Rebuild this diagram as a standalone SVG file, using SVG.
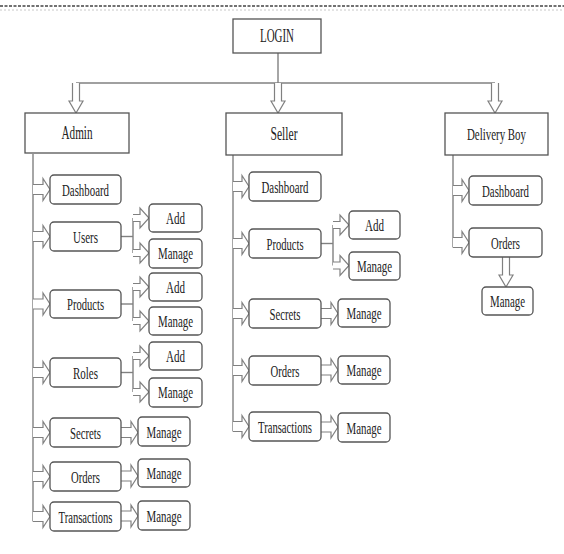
<svg xmlns="http://www.w3.org/2000/svg" xmlns:xlink="http://www.w3.org/1999/xlink" width="564" height="554" viewBox="0 0 564 554">
<style>
  .bg{fill:#ffffff}
  .hdr{fill:#ffffff;stroke:#555;stroke-width:1.3}
  .box{fill:#ffffff;stroke:#555;stroke-width:1.3}
  .ln{fill:none;stroke:#808080;stroke-width:1.4}
  .ar{fill:#ffffff;stroke:#808080;stroke-width:1.2;stroke-linejoin:miter}
  .t{font-family:"Liberation Serif","Times New Roman",serif;font-size:17px;fill:#222;text-anchor:middle}
  .th{font-family:"Liberation Serif","Times New Roman",serif;font-size:18px;fill:#222;text-anchor:middle}
</style>
<defs>
  <path id="arM" d="M0,-5 H10 V-11 L17,0 L10,11 V5 H0"/>
  <path id="arS" d="M0,-5 H9 V-11 L16,0 L9,11 V5 H0"/>
  <path id="arB" d="M0,-3.5 H7 V-10 L16,0 L7,10 V3.5 H0"/>
  <path id="arD" d="M-3.5,0 V18 H-7 L0,30 L7,18 H3.5 V0"/>
</defs>
<rect class="bg" x="0" y="0" width="564" height="554"/>
<line x1="0" y1="6" x2="564" y2="6" stroke="#444" stroke-width="1.6" stroke-dasharray="3,1.5"/>
<line x1="0" y1="10" x2="564" y2="10" stroke="#c8c8c8" stroke-width="1" stroke-dasharray="2,2"/>

<g id="connectors">
  <line class="ln" x1="278" y1="53" x2="278" y2="83"/>
  <line class="ln" x1="76" y1="83" x2="495" y2="83"/>
  <use href="#arD" class="ar" x="76" y="83"/>
  <use href="#arD" class="ar" x="278" y="83"/>
  <use href="#arD" class="ar" x="495" y="83"/>
  <line class="ln" x1="33" y1="154" x2="33" y2="521.5"/>
  <use href="#arM" class="ar" x="33" y="189.5"/>
  <use href="#arM" class="ar" x="33" y="236.5"/>
  <use href="#arM" class="ar" x="33" y="304"/>
  <use href="#arM" class="ar" x="33" y="372.5"/>
  <use href="#arM" class="ar" x="33" y="432.5"/>
  <use href="#arM" class="ar" x="33" y="476.5"/>
  <use href="#arM" class="ar" x="33" y="516.5"/>
  <line class="ln" x1="121" y1="236.5" x2="133" y2="236.5"/>
  <line class="ln" x1="133" y1="218" x2="133" y2="253"/>
  <use href="#arB" class="ar" x="133" y="218"/>
  <use href="#arB" class="ar" x="133" y="253"/>
  <line class="ln" x1="121" y1="304" x2="133" y2="304"/>
  <line class="ln" x1="133" y1="287" x2="133" y2="321"/>
  <use href="#arB" class="ar" x="133" y="287"/>
  <use href="#arB" class="ar" x="133" y="321"/>
  <line class="ln" x1="121" y1="372.5" x2="133" y2="372.5"/>
  <line class="ln" x1="133" y1="356" x2="133" y2="392"/>
  <use href="#arB" class="ar" x="133" y="356"/>
  <use href="#arB" class="ar" x="133" y="392"/>
  <use href="#arM" class="ar" x="121" y="432.5"/>
  <use href="#arM" class="ar" x="121" y="476"/>
  <use href="#arM" class="ar" x="121" y="516"/>
  <line class="ln" x1="233" y1="155" x2="233" y2="431.5"/>
  <use href="#arS" class="ar" x="233" y="186.5"/>
  <use href="#arS" class="ar" x="233" y="243.5"/>
  <use href="#arS" class="ar" x="233" y="313.5"/>
  <use href="#arS" class="ar" x="233" y="370.5"/>
  <use href="#arS" class="ar" x="233" y="426.5"/>
  <line class="ln" x1="321" y1="243.5" x2="333" y2="243.5"/>
  <line class="ln" x1="333" y1="225" x2="333" y2="265.5"/>
  <use href="#arB" class="ar" x="333" y="225"/>
  <use href="#arB" class="ar" x="333" y="265.5"/>
  <use href="#arM" class="ar" x="321" y="313.5"/>
  <use href="#arM" class="ar" x="321" y="370"/>
  <use href="#arM" class="ar" x="321" y="427"/>
  <line class="ln" x1="453" y1="155" x2="453" y2="247.5"/>
  <use href="#arS" class="ar" x="453" y="190.5"/>
  <use href="#arS" class="ar" x="453" y="242.5"/>
  <use href="#arD" class="ar" x="506" y="257"/>
</g>

<g id="login"><rect class="hdr" x="233" y="19" width="88" height="34"/><text class="th" x="277" y="42" textLength="34" lengthAdjust="spacingAndGlyphs">LOGIN</text></g>
<g id="admin"><rect class="hdr" x="25" y="113" width="104" height="40"/><text class="th" x="77" y="139" textLength="31" lengthAdjust="spacingAndGlyphs">Admin</text></g>
<g id="seller"><rect class="hdr" x="226" y="113" width="116" height="42"/><text class="th" x="284" y="140" textLength="27" lengthAdjust="spacingAndGlyphs">Seller</text></g>
<g id="delivery"><rect class="hdr" x="445" y="113" width="103" height="42"/><text class="th" x="496.5" y="140" style="font-size:17px" textLength="59" lengthAdjust="spacingAndGlyphs">Delivery Boy</text></g>

<g id="a-dashboard"><rect class="box" x="50" y="175" width="71" height="29" rx="4"/><text class="t" x="85.5" y="195.5" textLength="47" lengthAdjust="spacingAndGlyphs">Dashboard</text></g>
<g id="a-users"><rect class="box" x="50" y="222" width="71" height="29" rx="4"/><text class="t" x="85.5" y="242.5" textLength="25" lengthAdjust="spacingAndGlyphs">Users</text></g>
<g id="a-users-add"><rect class="box" x="149" y="204" width="53" height="28" rx="4"/><text class="t" x="175.5" y="224" textLength="19" lengthAdjust="spacingAndGlyphs">Add</text></g>
<g id="a-users-manage"><rect class="box" x="149" y="239" width="53" height="29" rx="4"/><text class="t" x="175.5" y="259" textLength="35" lengthAdjust="spacingAndGlyphs">Manage</text></g>
<g id="a-products"><rect class="box" x="50" y="290" width="71" height="28" rx="4"/><text class="t" x="85.5" y="310" textLength="37" lengthAdjust="spacingAndGlyphs">Products</text></g>
<g id="a-products-add"><rect class="box" x="149" y="273" width="53" height="28" rx="4"/><text class="t" x="175.5" y="293" textLength="19" lengthAdjust="spacingAndGlyphs">Add</text></g>
<g id="a-products-manage"><rect class="box" x="149" y="307" width="53" height="28" rx="4"/><text class="t" x="175.5" y="327" textLength="35" lengthAdjust="spacingAndGlyphs">Manage</text></g>
<g id="a-roles"><rect class="box" x="50" y="358" width="71" height="29" rx="4"/><text class="t" x="85.5" y="378.5" textLength="25" lengthAdjust="spacingAndGlyphs">Roles</text></g>
<g id="a-roles-add"><rect class="box" x="149" y="342" width="53" height="28" rx="4"/><text class="t" x="175.5" y="362" textLength="19" lengthAdjust="spacingAndGlyphs">Add</text></g>
<g id="a-roles-manage"><rect class="box" x="149" y="378" width="53" height="29" rx="4"/><text class="t" x="175.5" y="398" textLength="35" lengthAdjust="spacingAndGlyphs">Manage</text></g>
<g id="a-secrets"><rect class="box" x="50" y="418" width="71" height="29" rx="4"/><text class="t" x="85.5" y="438.5" textLength="31" lengthAdjust="spacingAndGlyphs">Secrets</text></g>
<g id="a-secrets-manage"><rect class="box" x="138" y="417" width="52" height="29" rx="4"/><text class="t" x="164" y="437.5" textLength="35" lengthAdjust="spacingAndGlyphs">Manage</text></g>
<g id="a-orders"><rect class="box" x="50" y="462" width="71" height="29" rx="4"/><text class="t" x="85.5" y="482.5" textLength="29" lengthAdjust="spacingAndGlyphs">Orders</text></g>
<g id="a-orders-manage"><rect class="box" x="138" y="459" width="52" height="28" rx="4"/><text class="t" x="164" y="479" textLength="35" lengthAdjust="spacingAndGlyphs">Manage</text></g>
<g id="a-transactions"><rect class="box" x="50" y="502" width="71" height="29" rx="4"/><text class="t" x="85.5" y="522.5" textLength="54" lengthAdjust="spacingAndGlyphs">Transactions</text></g>
<g id="a-transactions-manage"><rect class="box" x="138" y="501" width="52" height="29" rx="4"/><text class="t" x="164" y="521.5" textLength="35" lengthAdjust="spacingAndGlyphs">Manage</text></g>

<g id="s-dashboard"><rect class="box" x="249" y="172" width="72" height="29" rx="4"/><text class="t" x="285" y="192.5" textLength="47" lengthAdjust="spacingAndGlyphs">Dashboard</text></g>
<g id="s-products"><rect class="box" x="249" y="229" width="72" height="29" rx="4"/><text class="t" x="285" y="249.5" textLength="37" lengthAdjust="spacingAndGlyphs">Products</text></g>
<g id="s-products-add"><rect class="box" x="349" y="211" width="51" height="28" rx="4"/><text class="t" x="374.5" y="231" textLength="19" lengthAdjust="spacingAndGlyphs">Add</text></g>
<g id="s-products-manage"><rect class="box" x="349" y="252" width="51" height="28" rx="4"/><text class="t" x="374.5" y="272" textLength="35" lengthAdjust="spacingAndGlyphs">Manage</text></g>
<g id="s-secrets"><rect class="box" x="249" y="299" width="72" height="29" rx="4"/><text class="t" x="285" y="319.5" textLength="31" lengthAdjust="spacingAndGlyphs">Secrets</text></g>
<g id="s-secrets-manage"><rect class="box" x="338" y="299" width="52" height="28" rx="4"/><text class="t" x="364" y="319" textLength="35" lengthAdjust="spacingAndGlyphs">Manage</text></g>
<g id="s-orders"><rect class="box" x="249" y="356" width="72" height="29" rx="4"/><text class="t" x="285" y="376.5" textLength="29" lengthAdjust="spacingAndGlyphs">Orders</text></g>
<g id="s-orders-manage"><rect class="box" x="338" y="356" width="52" height="28" rx="4"/><text class="t" x="364" y="376" textLength="35" lengthAdjust="spacingAndGlyphs">Manage</text></g>
<g id="s-transactions"><rect class="box" x="249" y="412" width="72" height="29" rx="4"/><text class="t" x="285" y="432.5" textLength="54" lengthAdjust="spacingAndGlyphs">Transactions</text></g>
<g id="s-transactions-manage"><rect class="box" x="338" y="413" width="52" height="29" rx="4"/><text class="t" x="364" y="433.5" textLength="35" lengthAdjust="spacingAndGlyphs">Manage</text></g>

<g id="d-dashboard"><rect class="box" x="469" y="176" width="73" height="29" rx="4"/><text class="t" x="505.5" y="196.5" textLength="47" lengthAdjust="spacingAndGlyphs">Dashboard</text></g>
<g id="d-orders"><rect class="box" x="469" y="228" width="73" height="29" rx="4"/><text class="t" x="505.5" y="248.5" textLength="29" lengthAdjust="spacingAndGlyphs">Orders</text></g>
<g id="d-orders-manage"><rect class="box" x="482" y="287" width="51" height="28" rx="4"/><text class="t" x="507.5" y="307" textLength="35" lengthAdjust="spacingAndGlyphs">Manage</text></g>
</svg>
